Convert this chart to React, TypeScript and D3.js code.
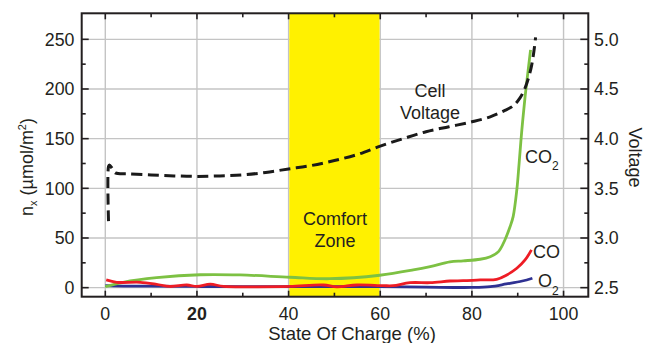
import React from "react";
import * as d3 from "d3";

// ---- Data ----
const voltageSoc = [0.7, 0.7, 0.9, 1.5, 2.2, 5, 10, 15, 20, 25, 30, 35, 40, 45, 50, 55, 60, 65, 70, 75, 80, 84, 87, 89, 90.5, 91.6, 92.4, 93, 93.5, 93.9];
const voltageValues = [3.17, 3.72, 3.735, 3.70, 3.655, 3.645, 3.635, 3.625, 3.62, 3.625, 3.635, 3.66, 3.695, 3.73, 3.78, 3.84, 3.925, 4.0, 4.07, 4.12, 4.17, 4.22, 4.28, 4.33, 4.41, 4.51, 4.62, 4.73, 4.87, 5.02];

const co2Soc = [0, 3.9, 11.2, 20.7, 29.4, 40.3, 49, 59.9, 67.2, 70.9, 75.2, 78.1, 81.8, 84, 85.8, 87.2, 88.3, 89, 89.8, 90.3, 90.9, 91.6, 92.2, 92.8];
const co2Values = [1, 5.4, 10, 13, 12.8, 10.5, 9, 12.5, 17.8, 21.2, 26, 27, 28.6, 31.2, 36.3, 48, 61, 71.5, 98.4, 125, 158.8, 192, 216, 239.4];

const coSoc = [0.2, 2.5, 7.6, 11.2, 14.1, 17.8, 20, 22.9, 25.8, 33.1, 40.3, 47.6, 50.5, 54.9, 60.7, 62.8, 66.5, 70.9, 75.2, 78.1, 81.8, 85.4, 87.6, 89.8, 91.6, 93];
const coValues = [7.8, 5.4, 5.4, 3.4, 1.2, 2.7, 1.2, 3.5, 1.2, 0.8, 1.2, 2.7, 0.8, 2.7, 2, 2, 5, 5, 6.7, 7, 7.8, 8.4, 12.8, 19.5, 27.9, 38];

const o2Soc = [0, 5, 10, 20, 30, 40, 50, 60, 70, 80, 84, 87.5, 91, 93.2];
const o2Values = [2, 1.5, 1.5, 1.2, 1, 1, 1, 1, 0.5, 0.2, 1, 3.7, 6.7, 9.5];

const comfortZone = [40, 60];
const xTicks = [0, 20, 40, 60, 80, 100];
const xMinorTicks = [10, 30, 50, 70, 90];
const yTicks = [0, 50, 100, 150, 200, 250];
const yMinorTicks = [25, 75, 125, 175, 225];
const vTicks = [2.5, 3.0, 3.5, 4.0, 4.5, 5.0];
const vMinorTicks = [2.75, 3.25, 3.75, 4.25, 4.75];

const W = 655;
const H = 343;
const L = 81.7, R = 588.3, T = 13.3, B = 296.7;

const FONT = "'Liberation Sans', Arial, Helvetica, sans-serif";
const INK = "#231f20";

export default function App() {
  const x = d3.scaleLinear().domain([-5.15, 105.4]).range([L, R]);
  const y = d3.scaleLinear().domain([-9.1, 276.2]).range([B, T]);
  const yv = d3.scaleLinear().domain([2.5, 5.0]).range([y(0), y(250)]);

  const mk = (xs: number[], ys: number[], ys2: (v: number) => number) =>
    d3
      .line<number>()
      .x((_, i) => x(xs[i]))
      .y((_, i) => ys2(ys[i]))
      .curve(d3.curveCatmullRom.alpha(0.5))(xs);

  const vPath = mk(voltageSoc, voltageValues, yv);
  const co2Path = mk(co2Soc, co2Values, y);
  const coPath = mk(coSoc, coValues, y);
  const o2Path = mk(o2Soc, o2Values, y);

  const tickStyle = { fontFamily: FONT, fontSize: 17.8, fill: INK } as const;

  return (
    <svg
      width={W}
      height={H}
      style={{ position: "absolute", left: 0, top: 0, background: "#fff" }}
    >
      <rect x={0} y={0} width={W} height={H} fill="#fff" />
      {/* grid */}
      {xTicks.map((t) => (
        <line key={"gx" + t} x1={x(t)} x2={x(t)} y1={T} y2={B} stroke="#c4c4c4" strokeWidth={1.4} />
      ))}
      {yTicks.map((t) => (
        <line key={"gy" + t} x1={L} x2={R} y1={y(t)} y2={y(t)} stroke="#c4c4c4" strokeWidth={1.4} />
      ))}
      {/* comfort zone */}
      <rect
        x={x(comfortZone[0]) + 0.7}
        y={T}
        width={x(comfortZone[1]) - x(comfortZone[0]) - 1.4}
        height={B - T}
        fill="#fff100"
      />
      {/* series */}
      <path d={o2Path || ""} fill="none" stroke="#2e3192" strokeWidth={2.8} strokeLinejoin="round" />
      <path d={co2Path || ""} fill="none" stroke="#7dc143" strokeWidth={2.8} strokeLinejoin="round" />
      <path d={coPath || ""} fill="none" stroke="#ee1c25" strokeWidth={2.8} strokeLinejoin="round" />
      <path d={vPath || ""} fill="none" stroke="#1a1a1a" strokeWidth={3} strokeDasharray="11 5.5" />

      {/* frame */}
      <rect x={L} y={T} width={R - L} height={B - T} fill="none" stroke={INK} strokeWidth={2} />
      {/* ticks */}
      {xTicks.map((t) => (
        <g key={"xt" + t}>
          <line x1={x(t)} x2={x(t)} y1={B} y2={B - 6} stroke={INK} strokeWidth={1.6} />
          <line x1={x(t)} x2={x(t)} y1={T} y2={T + 6} stroke={INK} strokeWidth={1.6} />
        </g>
      ))}
      {xMinorTicks.map((t) => (
        <g key={"xm" + t}>
          <line x1={x(t)} x2={x(t)} y1={B} y2={B - 4} stroke={INK} strokeWidth={1.6} />
          <line x1={x(t)} x2={x(t)} y1={T} y2={T + 4} stroke={INK} strokeWidth={1.6} />
        </g>
      ))}
      {yTicks.map((t) => (
        <line key={"yt" + t} x1={L} x2={L + 7} y1={y(t)} y2={y(t)} stroke={INK} strokeWidth={1.6} />
      ))}
      {yMinorTicks.map((t) => (
        <line key={"ym" + t} x1={L} x2={L + 4} y1={y(t)} y2={y(t)} stroke={INK} strokeWidth={1.6} />
      ))}
      {vTicks.map((t) => (
        <line key={"vt" + t} x1={R} x2={R - 8} y1={yv(t)} y2={yv(t)} stroke={INK} strokeWidth={1.6} />
      ))}
      {vMinorTicks.map((t) => (
        <line key={"vm" + t} x1={R} x2={R - 4} y1={yv(t)} y2={yv(t)} stroke={INK} strokeWidth={1.6} />
      ))}

      {/* tick labels */}
      {xTicks.map((t) => (
        <text key={"xl" + t} x={x(t)} y={319.5} textAnchor="middle" {...tickStyle} fontWeight={t === 20 ? "bold" : "normal"}>
          {t}
        </text>
      ))}
      {yTicks.map((t) => (
        <text key={"yl" + t} x={74.5} y={y(t) + 6.3} textAnchor="end" {...tickStyle}>
          {t}
        </text>
      ))}
      {vTicks.map((t) => (
        <text key={"vl" + t} x={594} y={yv(t) + 6.3} textAnchor="start" {...tickStyle}>
          {t.toFixed(1)}
        </text>
      ))}

      {/* axis titles */}
      <text x={352} y={339.5} textAnchor="middle" fontFamily={FONT} fontSize={18.5} fill={INK}>
        State Of Charge (%)
      </text>
      <text
        transform="translate(32.5,167) rotate(-90)"
        textAnchor="middle"
        fontFamily={FONT}
        fontSize={18}
        fill={INK}
      >
        n<tspan fontSize={11} dy={4}>x</tspan>
        <tspan dy={-4}> (µmol/m</tspan>
        <tspan fontSize={11} dy={-7}>2</tspan>
        <tspan dy={7}>)</tspan>
      </text>
      <text
        transform="translate(629,157.5) rotate(90)"
        textAnchor="middle"
        fontFamily={FONT}
        fontSize={18}
        fill={INK}
      >
        Voltage
      </text>

      {/* annotations */}
      <text x={335} y={224.5} textAnchor="middle" fontFamily={FONT} fontSize={18} fill={INK}>
        Comfort
      </text>
      <text x={335} y={246.5} textAnchor="middle" fontFamily={FONT} fontSize={18} fill={INK}>
        Zone
      </text>
      <text x={430} y={97} textAnchor="middle" fontFamily={FONT} fontSize={18} fill={INK}>
        Cell
      </text>
      <text x={430} y={119} textAnchor="middle" fontFamily={FONT} fontSize={18} fill={INK}>
        Voltage
      </text>
      <text x={525} y={163} fontFamily={FONT} fontSize={18} fill={INK}>
        CO<tspan fontSize={12} dy={7}>2</tspan>
      </text>
      <text x={533} y={258} fontFamily={FONT} fontSize={18} fill={INK}>
        CO
      </text>
      <text x={538} y={286.5} fontFamily={FONT} fontSize={18} fill={INK}>
        O<tspan fontSize={12} dy={8}>2</tspan>
      </text>
    </svg>
  );
}
